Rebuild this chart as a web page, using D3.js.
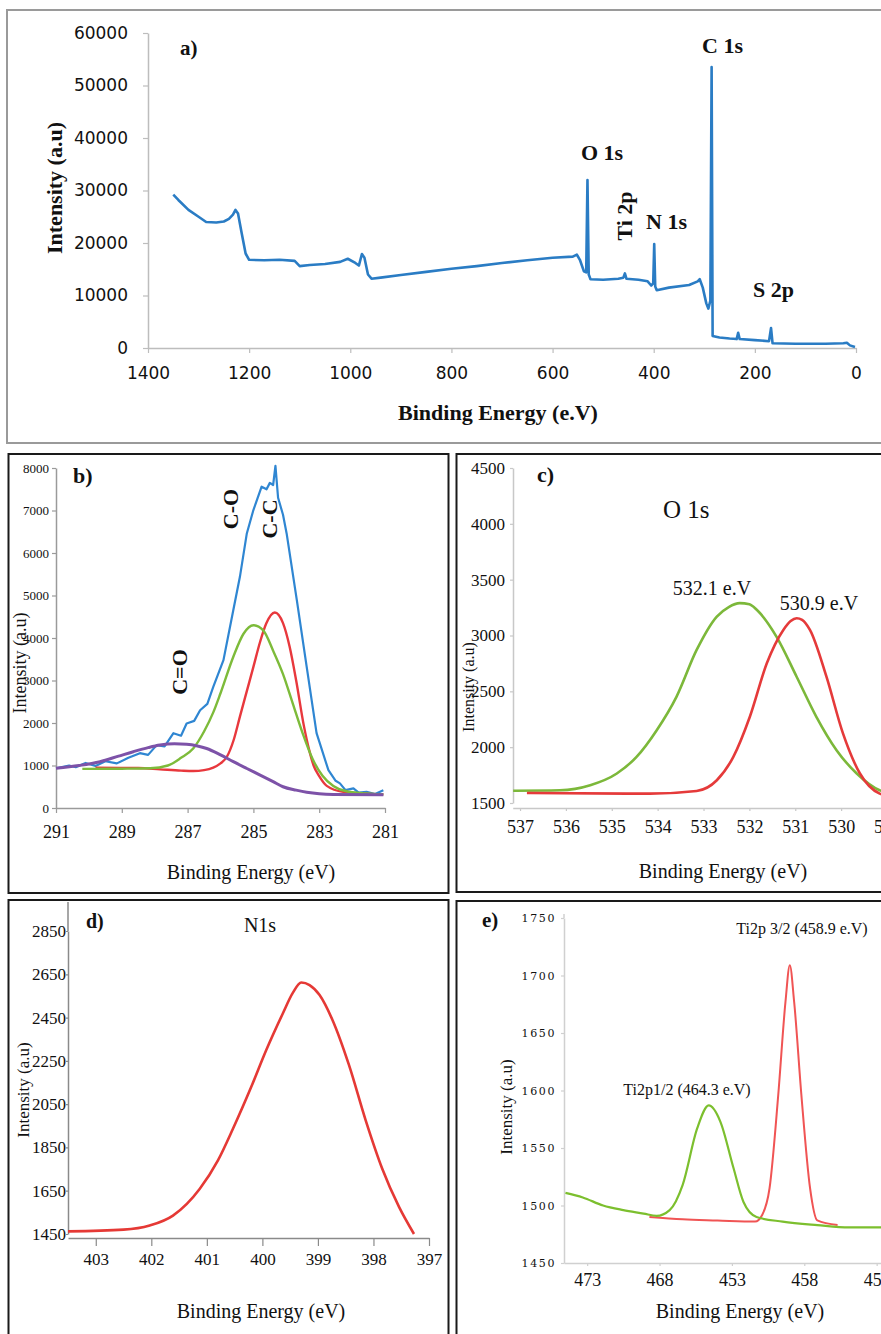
<!DOCTYPE html>
<html>
<head>
<meta charset="utf-8">
<script src="https://cdn.jsdelivr.net/npm/d3@7"></script>
<style>
  body { margin: 0; background: #fff; }
  text { font-family: "Liberation Serif", "Times New Roman", serif; fill: #111; }
</style>
</head>
<body>
<div id="fig"></div>
<script>
// ---- data ----
// a) survey spectrum
var surveyBE = [1350,1340,1320,1300,1285,1265,1250,1240,1232,1227,1222,1215,1207,1200,1170,1140,1110,1100,1080,1050,1020,1005,990,983,977,972,965,958,940,900,850,800,750,700,650,600,560,552,546,538,533.5,531,528.5,525,500,470,460,457,454,430,412,405,401,399,397,394,370,330,313,309,303,296,292,288,285.5,283.5,270,250,236,233,230,200,172,168,165,120,60,25,18,12,2];
var surveyI = [29200,28200,26300,25000,24000,23900,24100,24600,25400,26300,25600,22000,18000,16800,16700,16800,16600,15600,15800,16000,16400,17000,16200,15700,17900,17200,14000,13200,13400,13900,14500,15100,15600,16200,16700,17200,17400,17800,16800,14600,14400,32000,14000,13100,13000,13200,13400,14200,13200,13000,12700,11900,12300,19800,11700,11000,11500,12000,12700,13100,11500,8500,7500,9000,53500,2300,2000,1800,1700,2900,1700,1500,1300,3800,900,800,800,900,1000,500,200];
var aXTicks = [1400,1200,1000,800,600,400,200,0];
var aYTicks = [0,10000,20000,30000,40000,50000,60000];

// b) C 1s
var bTotalBE = [291,290.6,290.4,290.1,289.8,289.5,289.15,288.8,288.45,288.2,287.94,287.7,287.43,287.2,287.03,286.8,286.62,286.4,286.22,285.91,285.61,285.41,285.2,285.0,284.75,284.6,284.5,284.4,284.33,284.25,284.1,283.99,283.68,283.38,283.08,282.72,282.5,282.37,282.2,281.96,281.8,281.56,281.3,281.05];
var bTotalI = [935,1000,960,1060,990,1100,1050,1180,1290,1250,1480,1450,1760,1700,1990,2050,2300,2450,2850,3480,4660,5440,6460,7010,7560,7500,7650,7600,8050,7300,6900,6460,4890,3320,1760,890,640,580,420,460,360,380,330,420];
var bCCBE = [289.8,288.5,287.84,287.2,286.83,286.5,286.22,286.0,285.81,285.6,285.41,285.2,285.0,284.8,284.61,284.35,284.1,283.9,283.7,283.47,283.3,283.17,283.0,282.77,282.27,281.05];
var bCCI = [950,940,910,880,870,890,950,1050,1200,1600,2150,2750,3320,3900,4340,4600,4350,3800,3000,1950,1350,1000,750,520,380,320];
var bCOBE = [290.2,289,288.14,287.6,287.2,286.83,286.5,286.22,286.0,285.61,285.3,285.0,284.7,284.4,284.1,283.8,283.5,283.2,282.9,282.57,282.2,281.6,281.05];
var bCOI = [920,925,935,1000,1180,1400,1800,2250,2700,3560,4100,4300,4180,3700,3150,2450,1750,1150,760,520,400,340,320];
var bCdOBE = [291,290.3,289.66,289.1,288.65,288.2,287.84,287.4,287.03,286.7,286.42,286.0,285.61,285.2,284.81,284.4,284.1,283.7,283.38,282.57,281.05];
var bCdOI = [935,1000,1090,1220,1325,1420,1480,1510,1500,1460,1400,1250,1090,930,780,620,500,420,370,320,310];
var bXTicks = [291,289,287,285,283,281];
var bYTicks = [0,1000,2000,3000,4000,5000,6000,7000,8000];

// c) O 1s
var cOHBE = [537.15,536.13,535.47,534.89,534.46,534.02,533.59,533.15,532.71,532.45,532.21,532.0,531.84,531.41,530.97,530.54,530.10,529.66,529.16,528.9];
var cOHI = [1610,1614,1659,1764,1913,2152,2451,2871,3170,3255,3290,3280,3230,2990,2631,2272,1973,1764,1614,1590];
var cOxBE = [536.85,534.17,533.15,532.71,532.35,531.99,531.62,531.26,531.1,530.97,530.85,530.68,530.32,529.96,529.59,529.16,528.9];
var cOxI = [1590,1584,1608,1704,1913,2272,2751,3050,3130,3155,3140,3050,2631,2123,1764,1584,1560];
var cXTicks = [537,536,535,534,533,532,531,530,529];
var cYTicks = [1500,2000,2500,3000,3500,4000,4500];

// d) N 1s
var dBE = [403.5,402.5,402.03,401.61,401.13,400.8,400.53,400.2,399.93,399.63,399.45,399.3,399.15,398.97,398.74,398.44,398.14,397.84,397.54,397.27];
var dI = [1462,1470,1489,1535,1658,1790,1936,2130,2300,2470,2565,2612,2600,2554,2440,2230,1975,1750,1575,1450];
var dXTicks = [403,402,401,400,399,398,397];
var dYTicks = [1450,1650,1850,2050,2250,2450,2650,2850];

// e) Ti 2p
var eP12BE = [474.5,473.3,471.9,470.5,469.1,468.2,467.3,466.4,465.4,464.6,463.8,462.9,462.2,461.3,459.5,457.1,454.9,452.5];
var eP12I = [1511,1507,1500,1496,1493,1491,1496,1518,1567,1587,1573,1533,1503,1490,1486,1483,1481,1481];
var eP32BE = [468.7,466.4,464.0,461.4,460.9,460.4,459.8,459.3,459.0,458.7,458.2,457.6,457.1,455.7];
var eP32I = [1490,1488,1487,1486,1492,1515,1596,1677,1709,1677,1596,1515,1487,1483];
var eXTicks = [473,468,463,458,453];
var eXLabels = ['473','468','453','458','453'];
var eYTicks = [1450,1500,1550,1600,1650,1700,1750];

// ---- drawing ----
var svg = d3.select('#fig').append('svg')
    .attr('width', 881)
    .attr('height', 1334);

function box(x, y, w, h, color, sw) {
  svg.append('rect')
      .attr('x', x).attr('y', y).attr('width', w).attr('height', h)
      .attr('fill', 'none').attr('stroke', color).attr('stroke-width', sw);
}

function label(x, y, s, size, opt) {
  opt = opt || {};
  var t = svg.append('text')
      .attr('x', x).attr('y', y)
      .attr('font-size', size)
      .attr('text-anchor', opt.anchor || 'start')
      .attr('font-weight', opt.bold ? 'bold' : 'normal')
      .text(s);
  if (opt.rotate) t.attr('transform', 'rotate(-90,' + x + ',' + y + ')');
  return t;
}

function axes(x, y, o) {
  var gx = svg.append('g')
      .attr('transform', 'translate(0,' + o.xAt + ')')
      .call(d3.axisBottom(x)
        .tickValues(o.xTicks)
        .tickFormat(function (d, i) { return o.xLabels ? o.xLabels[i] : String(d); })
        .tickSizeInner(o.xTick).tickSizeOuter(0).tickPadding(o.xPad));
  var gy = svg.append('g')
      .attr('transform', 'translate(' + o.yAt + ',0)')
      .call(d3.axisLeft(y)
        .tickValues(o.yTicks)
        .tickFormat(function (d) { return String(d); })
        .tickSizeInner(o.yTick).tickSizeOuter(0).tickPadding(o.yPad));
  [gx, gy].forEach(function (g) {
    g.attr('font-family', null);
    g.select('.domain').attr('stroke', o.axisColor).attr('stroke-width', 1.5);
    g.selectAll('.tick line').attr('stroke', o.axisColor).attr('stroke-width', 1.2);
    g.selectAll('text').style('font-family', o.font).attr('fill', o.textColor);
  });
  gx.selectAll('text').attr('font-size', o.xFont);
  gy.selectAll('text').attr('font-size', o.yFont);
  if (o.yLetter) gy.selectAll('text').attr('letter-spacing', o.yLetter);
  return [gx, gy];
}

function curve(x, y, xs, ys, color, w, c) {
  svg.append('path')
      .datum(d3.zip(xs, ys))
      .attr('fill', 'none')
      .attr('stroke', color)
      .attr('stroke-width', w)
      .attr('stroke-linejoin', 'round')
      .attr('d', d3.line()
        .x(function (d) { return x(d[0]); })
        .y(function (d) { return y(d[1]); })
        .curve(c || d3.curveMonotoneX));
}

// panel a
box(7, 10, 890, 433, '#9a9a9a', 2);
var xa = d3.scaleLinear().domain([1400, 0]).range([148, 856]);
var ya = d3.scaleLinear().domain([0, 60000]).range([348, 33]);
axes(xa, ya, {
  xAt: 348, yAt: 148, xTicks: aXTicks, yTicks: aYTicks,
  xTick: 5, xPad: 14, yTick: 5, yPad: 15,
  axisColor: '#bdbdbd', textColor: '#555', font: '"DejaVu Sans", sans-serif',
  xFont: 17, yFont: 17
});
curve(xa, ya, surveyBE, surveyI, '#2a7cc4', 2.6, d3.curveLinear);
label(180, 55, 'a)', 21, {bold: true});
label(702, 53, 'C 1s', 22, {bold: true});
label(581, 160, 'O 1s', 22, {bold: true});
label(646, 229, 'N 1s', 22, {bold: true});
label(753, 297, 'S 2p', 22, {bold: true});
label(632, 216, 'Ti 2p', 22, {bold: true, rotate: true, anchor: 'middle'});
label(62, 188, 'Intensity (a.u)', 22, {bold: true, rotate: true, anchor: 'middle'});
label(498, 420, 'Binding Energy (e.V)', 22, {bold: true, anchor: 'middle'});

// panel b
box(8.5, 454, 440, 439, '#1a1a1a', 2);
var xb = d3.scaleLinear().domain([291, 281]).range([56, 385]);
var yb = d3.scaleLinear().domain([0, 8000]).range([808, 468]);
axes(xb, yb, {
  xAt: 808, yAt: 56, xTicks: bXTicks, yTicks: bYTicks,
  xTick: 5, xPad: 12, yTick: 4, yPad: 3,
  axisColor: '#9a9a9a', textColor: '#111', font: '"Liberation Serif", serif',
  xFont: 18, yFont: 13
});
curve(xb, yb, bTotalBE, bTotalI, '#2f86d2', 2.2, d3.curveLinear);
curve(xb, yb, bCCBE, bCCI, '#e8383d', 2.4);
curve(xb, yb, bCOBE, bCOI, '#7dbb3a', 2.4);
curve(xb, yb, bCdOBE, bCdOI, '#7d52a8', 3);
label(73, 483, 'b)', 22, {bold: true});
label(238, 509, 'C-O', 22, {bold: true, rotate: true, anchor: 'middle'});
label(277, 519, 'C-C', 22, {bold: true, rotate: true, anchor: 'middle'});
label(187, 672, 'C=O', 22, {bold: true, rotate: true, anchor: 'middle'});
label(26, 663, 'Intensity (a.u)', 18, {rotate: true, anchor: 'middle'});
label(251, 879, 'Binding Energy (eV)', 20, {anchor: 'middle'});

// panel c
box(456.5, 454, 440, 438, '#1a1a1a', 2);
var xc = d3.scaleLinear().domain([537.16, 529]).range([512.7, 887]);
var yc = d3.scaleLinear().domain([1500, 4500]).range([803, 468]);
axes(xc, yc, {
  xAt: 808, yAt: 513, xTicks: cXTicks, yTicks: cYTicks,
  xTick: 3, xPad: 9, yTick: 3, yPad: 5,
  axisColor: '#c8c8c8', textColor: '#111', font: '"Liberation Serif", serif',
  xFont: 18, yFont: 17
});
curve(xc, yc, cOHBE, cOHI, '#7cb83a', 2.6);
curve(xc, yc, cOxBE, cOxI, '#e53a3a', 2.6);
label(537, 482, 'c)', 22, {bold: true});
label(663, 518, 'O 1s', 25);
label(712, 595, '532.1 e.V', 20, {anchor: 'middle'});
label(819, 610, '530.9 e.V', 20, {anchor: 'middle'});
label(474, 687, 'Intensity (a.u)', 16, {rotate: true, anchor: 'middle'});
label(723, 878, 'Binding Energy (eV)', 20, {anchor: 'middle'});

// panel d
box(8.5, 900, 440, 450, '#1a1a1a', 2);
var xd = d3.scaleLinear().domain([403.5, 397]).range([68, 429]);
var yd = d3.scaleLinear().domain([1450, 2850]).range([1234, 931]);
axes(xd, yd, {
  xAt: 1238, yAt: 68, xTicks: dXTicks, yTicks: dYTicks,
  xTick: 8, xPad: 7, yTick: 2, yPad: 0,
  axisColor: '#8a8a8a', textColor: '#111', font: '"Liberation Serif", serif',
  xFont: 17, yFont: 17
});
svg.append('line')
    .attr('x1', 68).attr('x2', 68).attr('y1', 902).attr('y2', 931)
    .attr('stroke', '#8a8a8a').attr('stroke-width', 1.5);
curve(xd, yd, dBE, dI, '#e53935', 2.6);
label(86, 928, 'd)', 20, {bold: true});
label(260, 932, 'N1s', 20, {anchor: 'middle'});
label(29, 1090, 'Intensity (a.u)', 17, {rotate: true, anchor: 'middle'});
label(261, 1318, 'Binding Energy (eV)', 20, {anchor: 'middle'});

// panel e
box(456.5, 901, 440, 450, '#1a1a1a', 2);
var xe = d3.scaleLinear().domain([474.6, 452.7]).range([564, 881]);
var ye = d3.scaleLinear().domain([1450, 1750]).range([1263, 918]);
axes(xe, ye, {
  xAt: 1263, yAt: 564, xTicks: eXTicks, xLabels: eXLabels, yTicks: eYTicks,
  xTick: 3, xPad: 7, yTick: 3, yPad: 5,
  axisColor: '#d0d0d0', textColor: '#222', font: '"DejaVu Serif", serif',
  xFont: 18, yFont: 11, yLetter: 1.6
})[0].selectAll('text').style('font-family', '"Liberation Serif", serif');
svg.append('line')
    .attr('x1', 564).attr('x2', 564).attr('y1', 914).attr('y2', 918)
    .attr('stroke', '#d0d0d0').attr('stroke-width', 1.5);
curve(xe, ye, eP32BE, eP32I, '#f05454', 2);
curve(xe, ye, eP12BE, eP12I, '#7cbf2e', 2.2);
label(482, 927, 'e)', 21, {bold: true});
label(802, 934, 'Ti2p 3/2 (458.9 e.V)', 16, {anchor: 'middle'});
label(687, 1095, 'Ti2p1/2 (464.3 e.V)', 16, {anchor: 'middle'});
label(512, 1107, 'Intensity (a.u)', 17, {rotate: true, anchor: 'middle'});
label(740, 1318, 'Binding Energy (eV)', 20, {anchor: 'middle'});
</script>
</body>
</html>
